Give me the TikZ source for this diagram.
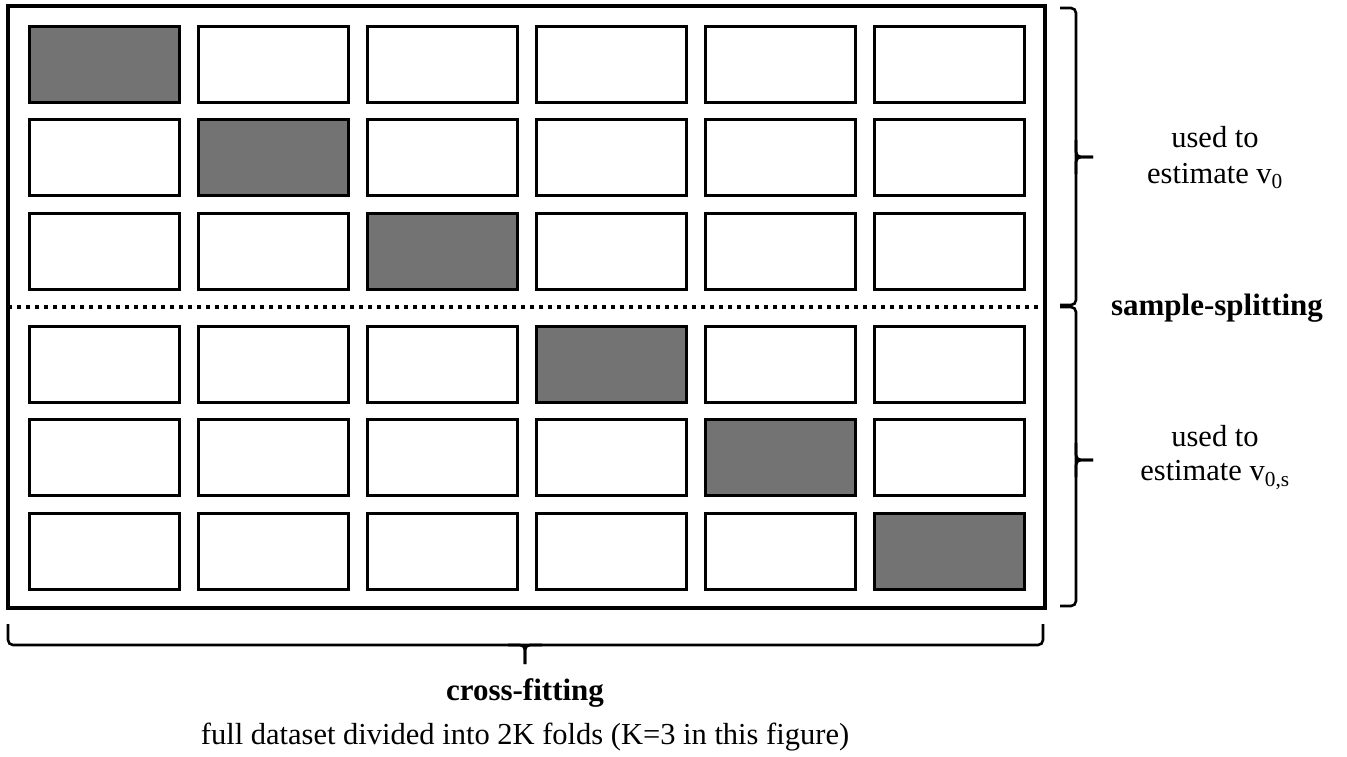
\documentclass[tikz,border=0pt]{standalone}
\usepackage{fontspec}
\setmainfont{Liberation Serif}
\definecolor{foldgray}{HTML}{737373}
\tikzset{
  cellbox/.style={draw=black, line width=3pt, fill=white, minimum width=150pt, minimum height=76pt, inner sep=0pt},
  heldout/.style={cellbox, fill=foldgray},
  bracket/.style={draw=black, line width=2.6pt, rounded corners=5pt},
  lbl/.style={font=\fontsize{30.5}{34}\selectfont, align=center, inner sep=0pt},
  blbl/.style={lbl, font=\fontsize{31}{34}\selectfont\bfseries},
}
\begin{document}
\begin{tikzpicture}[x=1pt,y=-1pt]
\useasboundingbox (0,0) rectangle (1347,756);
\draw[line width=3.5pt] (8,6) rectangle (1045,608);
\coordinate (dl) at (8,307);
\coordinate (dr) at (1045,307);
\draw[line width=3.5pt, dash pattern=on 3.5pt off 5.5pt] (dl) -- (dr);
\foreach \r/\y in {1/64.5, 2/157.5, 3/251, 4/364, 5/457, 6/551}{
  \foreach \c in {1,...,6}{
    \pgfmathsetmacro{\xx}{104.5+169*(\c-1)}
    \ifnum\r=\c
      \node[heldout] (c-\r-\c) at (\xx,\y) {};
    \else
      \node[cellbox] (c-\r-\c) at (\xx,\y) {};
    \fi
  }
}
% right brackets
\draw[bracket] (1060,8) -- (1076,8) -- (1076,157) -- (1076,305) -- (1060,305);
\draw[bracket] (1076,140) -- (1076,157) -- (1093,157);
\draw[bracket] (1076,174) -- (1076,157) -- (1093,157);
\draw[bracket] (1060,307) -- (1076,307) -- (1076,460) -- (1076,606) -- (1060,606);
\draw[bracket] (1076,443) -- (1076,460) -- (1093,460);
\draw[bracket] (1076,477) -- (1076,460) -- (1093,460);
% bottom bracket
\draw[bracket] (8,624) -- (8,645) -- (525,645) -- (1043,645) -- (1043,624);
\draw[bracket] (508,645) -- (525,645) -- (525,664);
\draw[bracket] (542,645) -- (525,645) -- (525,664);
% labels
\node[lbl] (u1) at (1215,137) {used to};
\node[lbl] (e1) at (1215,176) {estimate v\textsubscript{0}};
\node[blbl] (ss) at (1217,308) {sample-splitting};
\node[lbl] (u2) at (1215,436) {used to};
\node[lbl] (e2) at (1215,475) {estimate v\textsubscript{0,s}};
\node[blbl] (cf) at (525,693) {cross-fitting};
\node[lbl] (fd) at (525,737) {full dataset divided into 2K folds (K=3 in this figure)};
\end{tikzpicture}
\end{document}
